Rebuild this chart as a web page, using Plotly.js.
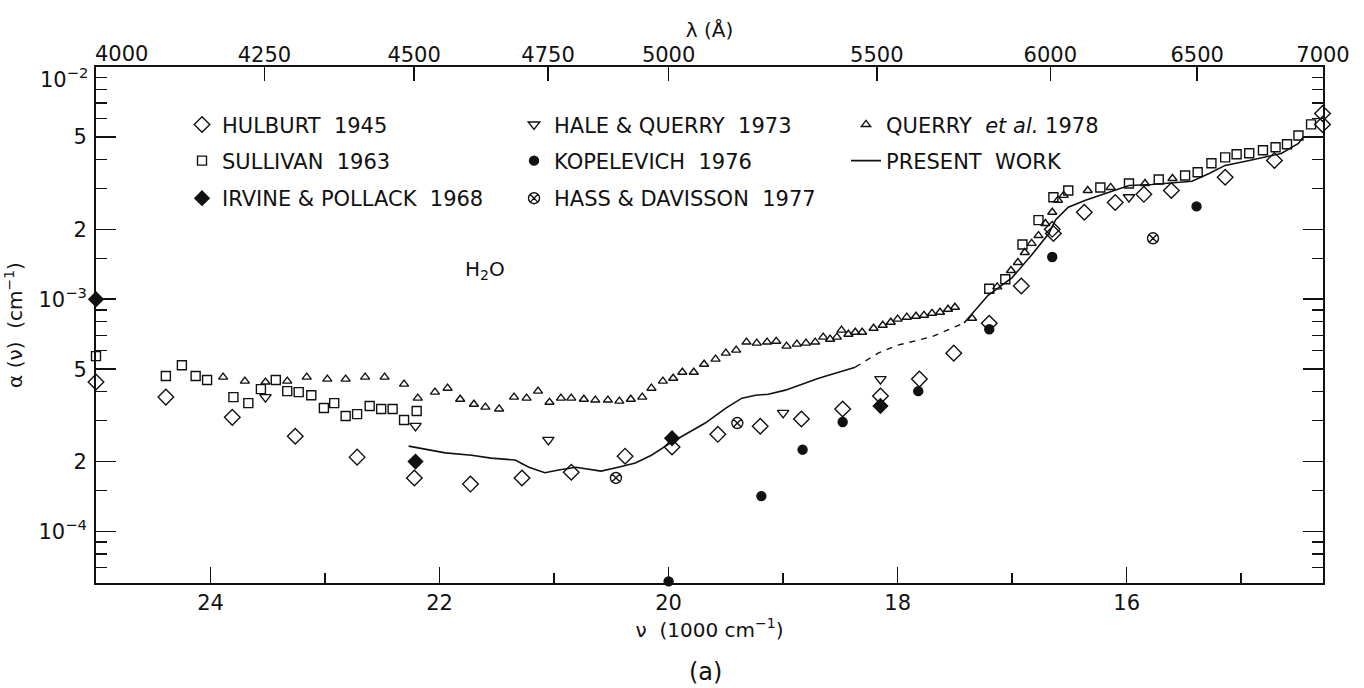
<!DOCTYPE html>
<html>
<head>
<meta charset="utf-8">
<script src="https://cdn.plot.ly/plotly-3.0.1.min.js"></script>
<style>html,body{margin:0;padding:0;background:#fff;}#chart{width:1364px;height:688px;}</style>
</head>
<body>
<div id="chart"></div>
<script>
// wavenumber in 1000 cm^-1, absorption coefficient in cm^-1
const hulburtNu = [25.0, 24.39, 23.81, 23.26, 22.72, 22.22, 21.73, 21.28, 20.85, 20.38, 19.97, 19.57, 19.20, 18.84, 18.48, 18.15, 17.81, 17.51, 17.20, 16.92, 16.65, 16.64, 16.37, 16.10, 15.85, 15.61, 15.14, 14.71, 14.29, 14.29];
const hulburtA = [4.40e-4, 3.79e-4, 3.10e-4, 2.57e-4, 2.09e-4, 1.70e-4, 1.60e-4, 1.70e-4, 1.80e-4, 2.11e-4, 2.31e-4, 2.62e-4, 2.84e-4, 3.05e-4, 3.37e-4, 3.83e-4, 4.53e-4, 5.86e-4, 7.88e-4, 1.14e-3, 2.00e-3, 1.92e-3, 2.37e-3, 2.61e-3, 2.83e-3, 2.94e-3, 3.35e-3, 3.96e-3, 6.31e-3, 5.66e-3];

const sullivanNu = [25.0, 24.39, 24.25, 24.13, 24.03, 23.80, 23.67, 23.56, 23.43, 23.33, 23.23, 23.12, 23.01, 22.92, 22.82, 22.72, 22.61, 22.51, 22.41, 22.31, 22.20, 17.20, 17.06, 16.91, 16.77, 16.64, 16.51, 16.23, 15.98, 15.72, 15.49, 15.38, 15.26, 15.14, 15.04, 14.93, 14.81, 14.70, 14.60, 14.50, 14.39];
const sullivanA = [5.69e-4, 4.67e-4, 5.20e-4, 4.67e-4, 4.49e-4, 3.79e-4, 3.57e-4, 4.10e-4, 4.49e-4, 4.02e-4, 3.98e-4, 3.86e-4, 3.40e-4, 3.57e-4, 3.14e-4, 3.20e-4, 3.47e-4, 3.37e-4, 3.37e-4, 3.02e-4, 3.30e-4, 1.11e-3, 1.22e-3, 1.72e-3, 2.19e-3, 2.75e-3, 2.94e-3, 3.03e-3, 3.15e-3, 3.28e-3, 3.41e-3, 3.52e-3, 3.85e-3, 4.08e-3, 4.21e-3, 4.25e-3, 4.38e-3, 4.51e-3, 4.65e-3, 5.07e-3, 5.66e-3];

const irvineNu = [25.0, 22.21, 19.97, 18.15];
const irvineA = [1.0e-3, 2.0e-4, 2.52e-4, 3.47e-4];

const haleNu = [23.52, 22.21, 21.05, 19.00, 18.15, 15.98];
const haleA = [3.79e-4, 2.85e-4, 2.48e-4, 3.24e-4, 4.53e-4, 2.75e-3];

const kopelevichNu = [20.0, 19.19, 18.83, 18.48, 17.82, 17.20, 16.65, 15.39];
const kopelevichA = [6.1e-5, 1.42e-4, 2.25e-4, 2.96e-4, 4.02e-4, 7.43e-4, 1.52e-3, 2.51e-3];

const hassNu = [20.46, 19.40, 15.77];
const hassA = [1.70e-4, 2.93e-4, 1.83e-3];

const querryNu = [23.89, 23.70, 23.52, 23.33, 23.16, 22.98, 22.82, 22.65, 22.48, 22.31, 22.19, 22.04, 21.93, 21.82, 21.70, 21.60, 21.48, 21.35, 21.24, 21.14, 21.04, 20.94, 20.85, 20.74, 20.64, 20.53, 20.43, 20.33, 20.23, 20.15, 20.05, 19.96, 19.88, 19.78, 19.69, 19.59, 19.50, 19.41, 19.32, 19.23, 19.14, 19.06, 18.97, 18.88, 18.80, 18.72, 18.65, 18.59, 18.53, 18.49, 18.43, 18.37, 18.31, 18.21, 18.13, 18.06, 18.00, 17.92, 17.84, 17.77, 17.70, 17.63, 17.56, 17.50, 17.35, 17.13, 17.01, 16.95, 16.89, 16.83, 16.77, 16.71, 16.65, 16.60, 16.55, 16.34, 16.14, 15.84, 15.60];
const querryA = [4.62e-4, 4.44e-4, 4.40e-4, 4.44e-4, 4.62e-4, 4.53e-4, 4.53e-4, 4.62e-4, 4.62e-4, 4.31e-4, 3.75e-4, 3.98e-4, 4.14e-4, 3.71e-4, 3.53e-4, 3.43e-4, 3.37e-4, 3.79e-4, 3.75e-4, 4.02e-4, 3.60e-4, 3.75e-4, 3.75e-4, 3.71e-4, 3.68e-4, 3.68e-4, 3.64e-4, 3.71e-4, 3.79e-4, 4.14e-4, 4.44e-4, 4.57e-4, 4.85e-4, 4.85e-4, 5.25e-4, 5.52e-4, 5.86e-4, 6.04e-4, 6.54e-4, 6.47e-4, 6.54e-4, 6.59e-4, 6.28e-4, 6.41e-4, 6.47e-4, 6.54e-4, 6.87e-4, 6.73e-4, 6.87e-4, 7.36e-4, 7.07e-4, 7.21e-4, 7.21e-4, 7.50e-4, 7.73e-4, 7.96e-4, 8.21e-4, 8.37e-4, 8.45e-4, 8.53e-4, 8.70e-4, 8.79e-4, 9.06e-4, 9.24e-4, 8.28e-4, 1.13e-3, 1.33e-3, 1.44e-3, 1.59e-3, 1.74e-3, 1.88e-3, 2.12e-3, 2.37e-3, 2.67e-3, 2.80e-3, 2.94e-3, 3.03e-3, 3.15e-3, 3.31e-3];

const presentNu = [22.27, 21.95, 21.72, 21.55, 21.34, 21.22, 21.08, 20.96, 20.81, 20.59, 20.44, 20.29, 20.15, 19.97, 19.68, 19.50, 19.36, 19.24, 19.13, 18.98, 18.69, 18.37, null, 17.42, 17.21, 17.00, 16.83, 16.68, 16.62, 16.51, 16.36, 16.18, 15.98, 15.78, 15.43, 15.28, 15.14, 14.93, 14.65, 14.50, 14.46, 14.30];
const presentA = [2.33e-4, 2.18e-4, 2.13e-4, 2.07e-4, 2.03e-4, 1.89e-4, 1.79e-4, 1.84e-4, 1.89e-4, 1.82e-4, 1.89e-4, 1.97e-4, 2.13e-4, 2.43e-4, 2.93e-4, 3.40e-4, 3.75e-4, 3.86e-4, 3.90e-4, 4.06e-4, 4.57e-4, 5.10e-4, null, 7.90e-4, 1.04e-3, 1.24e-3, 1.55e-3, 1.92e-3, 2.20e-3, 2.49e-3, 2.67e-3, 2.86e-3, 3.09e-3, 3.12e-3, 3.22e-3, 3.48e-3, 3.77e-3, 3.96e-3, 4.24e-3, 4.69e-3, 4.98e-3, 4.98e-3];

const dashNu = [18.37, 18.17, 18.00, 17.70, 17.42];
const dashA = [5.10e-4, 5.86e-4, 6.34e-4, 6.90e-4, 7.90e-4];

// axis ticks
const nuTicks = [24, 22, 20, 18, 16];
const lambdaTicks = [4000, 4250, 4500, 4750, 5000, 5500, 6000, 6500, 7000];
const alphaTicks = [1e-2, 5e-3, 2e-3, 1e-3, 5e-4, 2e-4, 1e-4];
const alphaTickText = ['', '5', '2', '10<sup>−3</sup>', '5', '2', '10<sup>−4</sup>'];
const minorMult = [1.5, 3, 4, 6, 7, 8, 9];
const decades = [1e-5, 1e-4, 1e-3];

const FONT = 'DejaVu Sans, Liberation Sans, sans-serif';
const BLACK = '#111';

const minorVals = [];
decades.forEach(d => minorMult.forEach(m => { const v = m * d; if (v >= 6.05e-5 && v < 1e-2) minorVals.push(v); }));

function pts(name, x, y, symbol, size, legend, extra) {
  return Object.assign({
    type: 'scatter', mode: 'markers', name: name, x: x, y: y,
    legend: legend, cliponaxis: false,
    marker: { symbol: symbol, size: size, color: BLACK, line: { color: BLACK, width: 1.4 } }
  }, extra || {});
}

const traces = [
  pts('HULBURT  1945', hulburtNu, hulburtA, 'diamond-open', 12, 'legend'),
  pts('HALE & QUERRY  1973', haleNu, haleA, 'triangle-down-open', 10, 'legend'),
  pts('QUERRY  <i>et al.</i> 1978', querryNu, querryA, 'triangle-up-open', 8, 'legend'),
  pts('SULLIVAN  1963', sullivanNu, sullivanA, 'square-open', 9, 'legend2'),
  pts('KOPELEVICH  1976', kopelevichNu, kopelevichA, 'circle', 9, 'legend2'),
  { type: 'scatter', mode: 'lines', name: 'PRESENT  WORK', x: presentNu, y: presentA,
    legend: 'legend2', line: { color: BLACK, width: 1.6 }, connectgaps: false },
  pts('IRVINE & POLLACK  1968', irvineNu, irvineA, 'diamond', 11, 'legend3'),
  pts('HASS & DAVISSON  1977', hassNu, hassA, 'circle-x-open', 11, 'legend3'),
  { type: 'scatter', mode: 'lines', name: 'present (extrapolated)', x: dashNu, y: dashA,
    showlegend: false, line: { color: BLACK, width: 1.4, dash: '6px,6px' } },
  { type: 'scatter', mode: 'markers', x: [null], y: [null], xaxis: 'x2', showlegend: false, hoverinfo: 'skip' }
];

const tickFont = { family: FONT, size: 21, color: BLACK };
const xRange = [25, 1e5 / 7000];

function legendBox(y) {
  return {
    orientation: 'h', x: 0.0701, xanchor: 'left', y: y, yanchor: 'middle',
    bgcolor: 'rgba(0,0,0,0)', borderwidth: 0, entrywidth: 287, entrywidthmode: 'pixels',
    itemwidth: 30, font: { family: FONT, size: 21, color: BLACK }, itemclick: false
  };
}

const layout = {
  width: 1364, height: 688,
  margin: { l: 96, r: 41, t: 67, b: 105 },
  paper_bgcolor: '#fff', plot_bgcolor: '#fff',
  font: { family: FONT, color: BLACK },
  showlegend: true,
  legend: legendBox(0.888),
  legend2: legendBox(0.8178),
  legend3: legendBox(0.745),
  xaxis: {
    range: xRange, automargin: false,
    tickmode: 'array', tickvals: nuTicks, ticks: 'inside', ticklen: 16, tickwidth: 1.6, tickcolor: BLACK,
    minor: { dtick: 1, tick0: 0, ticks: 'inside', ticklen: 10, tickwidth: 1.4, tickcolor: BLACK },
    showline: true, linecolor: BLACK, linewidth: 2, mirror: false,
    showgrid: false, zeroline: false, tickfont: tickFont,
    title: { text: 'ν  (1000 cm<sup>−1</sup>)', font: { family: FONT, size: 20, color: BLACK }, standoff: 8 }
  },
  xaxis2: {
    overlaying: 'x', side: 'top', anchor: 'y', range: xRange, automargin: false,
    tickmode: 'array', tickvals: lambdaTicks.map(l => 1e5 / l),
    ticktext: lambdaTicks.map((l, i) => i === 0 ? '' : String(l)),
    ticks: 'inside', ticklen: 14, tickwidth: 1.6, tickcolor: BLACK,
    showline: true, linecolor: BLACK, linewidth: 2,
    showgrid: false, zeroline: false, tickfont: tickFont, ticklabelstandoff: -5,
    title: { text: 'λ (Å)', font: { family: FONT, size: 20, color: BLACK }, standoff: 0 }
  },
  yaxis: {
    type: 'log', range: [Math.log10(6.0e-5), -2], automargin: false,
    tickmode: 'array', tickvals: alphaTicks, ticktext: alphaTickText,
    ticks: 'inside', ticklen: 20, tickwidth: 1.6, tickcolor: BLACK,
    minor: { tickmode: 'array', tickvals: minorVals, ticks: 'inside', ticklen: 11, tickwidth: 1.4, tickcolor: BLACK },
    showline: true, linecolor: BLACK, linewidth: 2, mirror: 'ticks',
    showgrid: false, zeroline: false, tickfont: tickFont, ticklabelstandoff: 3,
    title: { text: 'α (ν)  (cm<sup>−1</sup>)', font: { family: FONT, size: 20, color: BLACK }, standoff: 10 }
  },
  annotations: [
    { text: 'H<sub>2</sub>O', xref: 'x', yref: 'y', x: 21.6, y: Math.log10(1.33e-3), showarrow: false,
      font: { family: FONT, size: 20, color: BLACK } },
    { text: '(a)', xref: 'paper', yref: 'paper', x: 0.497, y: -0.172, yanchor: 'middle', showarrow: false,
      font: { family: FONT, size: 24, color: BLACK } },
    { text: String(lambdaTicks[0]), xref: 'x', yref: 'paper', x: xRange[0], y: 1, xanchor: 'left', yanchor: 'bottom',
      yshift: -1, xshift: -3, showarrow: false, font: tickFont },
    { text: '10<sup>−2</sup>', xref: 'paper', yref: 'paper', x: 0, y: 1, xanchor: 'right', yanchor: 'middle',
      xshift: -6, yshift: -11, showarrow: false, font: tickFont }
  ]
};

Plotly.newPlot('chart', traces, layout, { displayModeBar: false, staticPlot: true });
</script>
</body>
</html>
